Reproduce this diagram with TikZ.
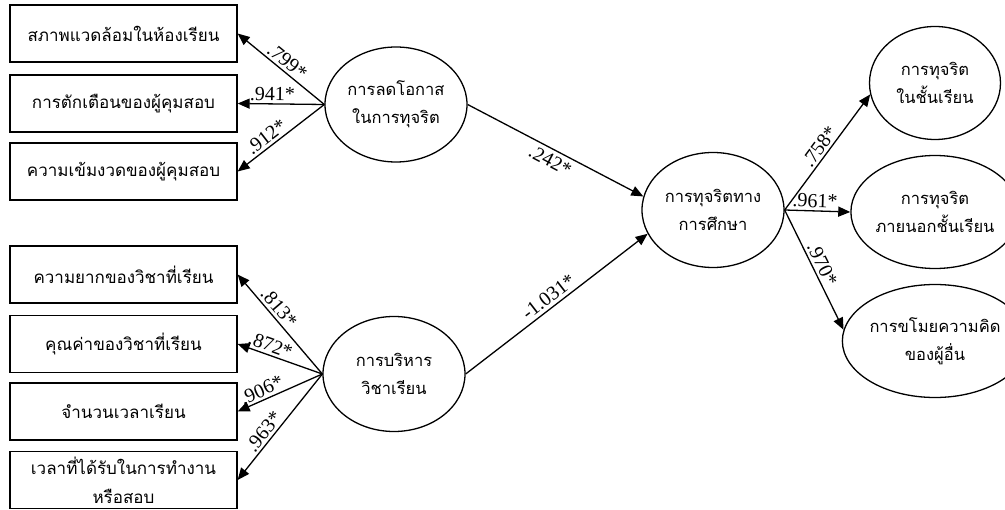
\documentclass[tikz,border=0pt]{standalone}
\usepackage{fontspec}
\setmainfont{Liberation Serif}
\newfontfamily\thaifont[Script=Thai]{Loma}
\usetikzlibrary{arrows.meta,shapes.geometric}
\begin{document}
\begin{tikzpicture}[x=1pt,y=-1pt,
  box/.style={draw, line width=1.3pt, minimum width=227pt, minimum height=57pt, inner sep=0pt,
    font=\thaifont\fontsize{17}{29}\selectfont, align=center},
  lat/.style={draw, ellipse, line width=1.3pt, inner sep=0pt, minimum width=142pt, minimum height=115pt,
    font=\thaifont\fontsize{16.5}{28}\selectfont, align=center},
  rlat/.style={lat, minimum width=131pt, minimum height=113pt},
  arr/.style={line width=1.3pt, -{Triangle[length=12pt,width=10pt]}},
  lab/.style={font=\fontsize{20}{20}\selectfont, inner sep=1pt, sloped}
]
\useasboundingbox (0,0) rectangle (1005,510);
% boxes
\node[box] (b1) at (123.5,33.5) {สภาพแวดล้อมในห้องเรียน};
\node[box] (b2) at (123.5,103.5) {การตักเตือนของผู้คุมสอบ};
\node[box] (b3) at (123.5,171.5) {ความเข้มงวดของผู้คุมสอบ};
\node[box] (b4) at (123.5,274.5) {ความยากของวิชาที่เรียน};
\node[box] (b5) at (123.5,344) {คุณค่าของวิชาที่เรียน};
\node[box] (b6) at (123.5,411.5) {จำนวนเวลาเรียน};
\node[box] (b7) at (123.5,480) {เวลาที่ได้รับในการทำงาน\\หรือสอบ};
% latent
\node[lat] (e1) at (396,104.5) {การลดโอกาส\\ในการทุจริต};
\node[lat] (e2) at (394,374) {การบริหาร\\วิชาเรียน};
\node[lat] (e3) at (713,210) {การทุจริตทาง\\การศึกษา};
\node[rlat] (e4) at (935,83) {การทุจริต\\ในชั้นเรียน};
\node[rlat] (e5) at (935,212) {การทุจริต\\ภายนอกชั้นเรียน};
\node[rlat] (e6) at (935,341) {การขโมยความคิด\\ของผู้อื่น};
% arrows left
\draw[arr] (e1.west) -- (b1.east) node[lab, pos=0.5, above=1.5pt] {.799*};
\draw[arr] (e1.west) -- (b2.east) node[lab, pos=0.6, above=1.5pt] {.941*};
\draw[arr] (e1.west) -- (b3.east) node[lab, pos=0.6, above=1.5pt] {.912*};
\draw[arr] (e2.west) -- (b4.east) node[lab, pos=0.6, above=1.5pt] {.813*};
\draw[arr] (e2.west) -- (b5.east) node[lab, pos=0.65, above=1.5pt] {.872*};
\draw[arr] (e2.west) -- (b6.east) node[lab, pos=0.67, above=1.5pt] {.906*};
\draw[arr] (e2.west) -- (b7.east) node[lab, pos=0.6, above=1.5pt] {.963*};
% structural
\draw[arr] (e1.east) -- (e3.169) node[lab, pos=0.5, below=3pt] {.242*};
\draw[arr] (e2.east) -- (e3.200) node[lab, pos=0.49, above=2pt] {-1.031*};
% right
\draw[arr] (e3.east) -- (e4.190) node[lab, pos=0.5, above=1.5pt] {.758*};
\draw[arr] (e3.east) -- (e5.west) node[lab, pos=0.46, above=1.5pt] {.961*};
\draw[arr] (e3.east) -- (e6.173) node[lab, pos=0.49, above=1.5pt] {.970*};
\end{tikzpicture}
\end{document}
